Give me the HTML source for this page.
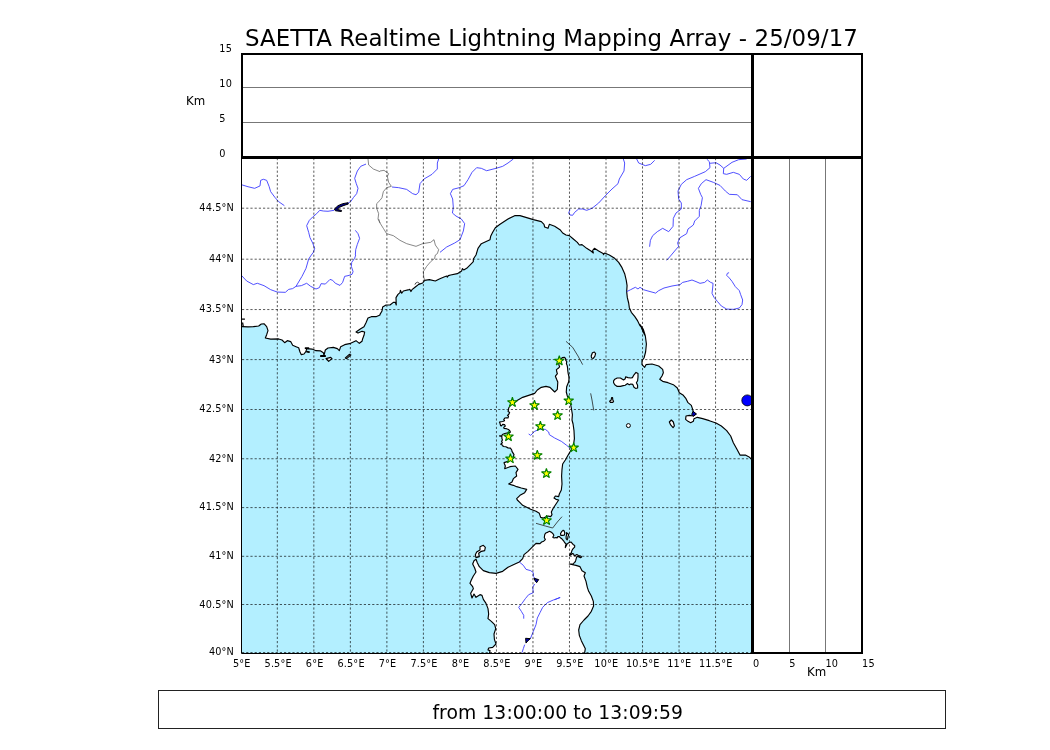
<!DOCTYPE html><html><head><meta charset="utf-8"><title>SAETTA Realtime Lightning Mapping Array</title>
<style>html,body{margin:0;padding:0;background:#fff}body{width:1050px;height:750px;overflow:hidden}svg{display:block}text{font-family:"DejaVu Sans","Liberation Sans",sans-serif;fill:#000}.t{font-size:9.72px;letter-spacing:.15px}.k{font-size:11.8px}</style></head><body>
<svg width="1050" height="750" viewBox="0 0 1050 750">
<defs><clipPath id="m"><rect x="242" y="158" width="510" height="495.5"/></clipPath></defs>
<rect width="1050" height="750" fill="#fff"/>
<g clip-path="url(#m)">
<rect x="241" y="157" width="512" height="497" fill="#b3efff"/>
<polygon points="241.07,326.67 242.67,326.67 248,326.93 253.33,326.67 258.67,326 261.33,324 264,323.73 266.67,326.67 268,330.67 266.67,334.67 265.33,338 270.67,339.07 278.67,338.93 282,340 284.67,342.67 287.33,340.67 290.67,341.6 292.67,345.33 296,346.67 298.67,347.73 300,352 301.33,354.67 304,354 306,351.33 306.67,348.67 312,349.07 316,350.67 320.67,350.93 323.33,352.67 324,355.33 325.33,350 328,348 333.33,347.33 337.33,348.67 339.33,350.67 340.67,346.67 344.67,344.67 350.67,343.33 356,340.67 359.33,343.33 362,341.33 362.67,338.67 364,335.33 364.67,332 362,331.33 358,333.07 356,332 360.67,328.67 364,326.67 366,322.67 368,318 371.33,316.67 376,316.67 380,314.93 380,314.33 382,311 382.67,307 386,305 390,305 393.33,302.33 395.33,302.33 396.27,305 396,297.67 398,294.33 400,292.6 400.4,290.33 401.73,293.27 403.33,291 408,289.93 409.87,289.4 410.93,291.53 412,289.67 415.33,287 418.67,284.33 422.67,283 424.67,280.33 429.33,279.67 435.33,281 439.33,279 444,277 446.67,276.07 447.33,277.13 448.27,275.67 450.67,275 457.33,273.67 461.6,271 462.4,268.6 463.73,269.93 466.67,268.33 470.67,264.33 473.33,261.67 473.33,259 476,255 478,248.33 481.33,243.67 490,239.67 490.67,236.33 492.67,232.33 495.33,227.67 500,224.33 508,219 514.67,215.67 520,215.67 520,215.67 526.67,217.67 533.33,219.67 541.33,221.67 544,224.33 544.67,227 548,228.33 549.33,224.33 554.67,226.33 560,229.67 562.67,233 566,235 569.33,235.67 573.33,239 577.33,242.33 579.33,245 582,244.6 586.67,248.33 591.33,251.27 593.33,253 592.67,250.33 594.4,248.33 598.67,251 604,253.93 603.33,254.73 604.67,253 609.33,255 614.67,258.33 618.67,262.33 622,267.67 624.67,273.67 626.27,280.33 627.07,285.67 626.67,291.67 627.33,297.67 628.67,303 629.33,307.67 631.33,312.33 634.67,316.33 637.33,320.33 640,325.67 642.67,329 644.67,335 640,324.67 643.33,329.33 645.33,336 646.4,344 645.6,352 644,358 642,360.67 642,364.67 644.67,367.33 646,364.67 652,364 658.67,366 662.67,369.33 663.33,372.67 662,376 659.73,379.33 662.67,381.33 668,382.67 673.33,384.67 677.33,388 679.33,392.67 683.33,395.33 686,398.67 688,402.67 691.33,405.33 692.67,409.33 693.33,412 695.33,414 693.33,416 689.33,415.33 686,416 685.6,419.33 688,421.33 690.67,422.67 693.33,421.33 694,418.67 697.33,417.33 702.67,418.67 709.33,420.67 716,423.07 721.33,426 726.67,430.67 730.67,436 733.33,442.67 736.67,448.67 740,455.07 745.33,455.07 748.67,456.67 752,459.6 760,459.6 760,150 235,150 235,326.7" fill="#fff"/>
<polyline points="241.07,326.67 242.67,326.67 248,326.93 253.33,326.67 258.67,326 261.33,324 264,323.73 266.67,326.67 268,330.67 266.67,334.67 265.33,338 270.67,339.07 278.67,338.93 282,340 284.67,342.67 287.33,340.67 290.67,341.6 292.67,345.33 296,346.67 298.67,347.73 300,352 301.33,354.67 304,354 306,351.33 306.67,348.67 312,349.07 316,350.67 320.67,350.93 323.33,352.67 324,355.33 325.33,350 328,348 333.33,347.33 337.33,348.67 339.33,350.67 340.67,346.67 344.67,344.67 350.67,343.33 356,340.67 359.33,343.33 362,341.33 362.67,338.67 364,335.33 364.67,332 362,331.33 358,333.07 356,332 360.67,328.67 364,326.67 366,322.67 368,318 371.33,316.67 376,316.67 380,314.93 380,314.33 382,311 382.67,307 386,305 390,305 393.33,302.33 395.33,302.33 396.27,305 396,297.67 398,294.33 400,292.6 400.4,290.33 401.73,293.27 403.33,291 408,289.93 409.87,289.4 410.93,291.53 412,289.67 415.33,287 418.67,284.33 422.67,283 424.67,280.33 429.33,279.67 435.33,281 439.33,279 444,277 446.67,276.07 447.33,277.13 448.27,275.67 450.67,275 457.33,273.67 461.6,271 462.4,268.6 463.73,269.93 466.67,268.33 470.67,264.33 473.33,261.67 473.33,259 476,255 478,248.33 481.33,243.67 490,239.67 490.67,236.33 492.67,232.33 495.33,227.67 500,224.33 508,219 514.67,215.67 520,215.67 520,215.67 526.67,217.67 533.33,219.67 541.33,221.67 544,224.33 544.67,227 548,228.33 549.33,224.33 554.67,226.33 560,229.67 562.67,233 566,235 569.33,235.67 573.33,239 577.33,242.33 579.33,245 582,244.6 586.67,248.33 591.33,251.27 593.33,253 592.67,250.33 594.4,248.33 598.67,251 604,253.93 603.33,254.73 604.67,253 609.33,255 614.67,258.33 618.67,262.33 622,267.67 624.67,273.67 626.27,280.33 627.07,285.67 626.67,291.67 627.33,297.67 628.67,303 629.33,307.67 631.33,312.33 634.67,316.33 637.33,320.33 640,325.67 642.67,329 644.67,335 640,324.67 643.33,329.33 645.33,336 646.4,344 645.6,352 644,358 642,360.67 642,364.67 644.67,367.33 646,364.67 652,364 658.67,366 662.67,369.33 663.33,372.67 662,376 659.73,379.33 662.67,381.33 668,382.67 673.33,384.67 677.33,388 679.33,392.67 683.33,395.33 686,398.67 688,402.67 691.33,405.33 692.67,409.33 693.33,412 695.33,414 693.33,416 689.33,415.33 686,416 685.6,419.33 688,421.33 690.67,422.67 693.33,421.33 694,418.67 697.33,417.33 702.67,418.67 709.33,420.67 716,423.07 721.33,426 726.67,430.67 730.67,436 733.33,442.67 736.67,448.67 740,455.07 745.33,455.07 748.67,456.67 752,459.6" fill="none" stroke="#000" stroke-width="1.15" stroke-linejoin="round"/>
<path d="M241.5,319.2H244.9M242.6,322.5L243.2,326.3" fill="none" stroke="#000" stroke-width="1.3"/>
<polygon points="508.67,408 511.33,404 516.67,400.67 522.67,397.33 528.67,395.33 534.67,393.33 537.33,390 541.33,387.33 546,386.4 550,387.33 552.67,390 554.67,392 557.33,389.33 557.8,382 556.6,379.2 555.4,376.2 557.4,373.6 556.8,372 556.4,369.6 558.6,368 559.6,366.8 559,365.2 558.8,363.6 559.8,361.2 562.2,357.6 564.6,357.4 565.6,358.6 565.8,360.4 566.8,361.6 566.4,363.6 567.2,365.6 567.6,368 567.8,370.8 568.2,373.6 568.8,376 569,379.2 568.6,382 566.67,386.67 566.27,392 567.33,396 570,401.33 571.33,408 572.4,414.67 572,420 573.07,424 574,430.67 574.4,438.67 573.33,446 570.67,450.67 568,455.33 565.33,460 562.67,464 562,469.33 561.6,476 562,484 561.33,490 559.33,494 558.67,496.67 555.33,496 554,498 556,499.33 558.67,500 556,504 553.33,508 551.33,512 552,514.67 550.67,516.67 548,516 543.33,518 540.67,517.33 539.33,513.33 536,511.33 530.67,509.33 526.67,507.33 522.67,505.33 520,502.67 517.33,500 516.67,498.67 520,495.33 524.67,492.67 526.67,489.33 521.33,488 516.67,486.67 513.33,485.33 508.67,484 512,482 513.33,478.67 516.67,476 516,472.67 518,469.33 515.33,466 510,466.67 504.67,468.67 505.33,466 504,462.67 508,461.33 512.67,458.67 514,454.67 512,451.33 511.73,450 510.4,448.13 508,447.87 505.87,446.8 503.2,446.53 502.67,445.2 500.8,444.13 502.4,442.8 501.6,441.47 502.4,439.87 501.87,438.27 501.87,436.4 499.47,435.87 501.87,435.87 502.4,434.53 504.8,433.47 508,432.93 510.4,432.13 509.87,430.8 508.53,429.47 506.4,428.67 504,428.4 503.73,427.33 505.33,426 504.53,424.67 502.67,424.4 501.33,426 500.53,425.47 500,423.33 499.47,422 502.67,421.47 504.53,420.67 503.73,419.6 504.8,418 506.4,417.73 508,418 508.53,416.13 507.47,415.33 508.8,414.27 509.6,412.4 508,411.33 508.53,410" fill="#fff" stroke="#000" stroke-width="1.15" stroke-linejoin="round"/>
<polygon points="489.6,654 489.6,652.67 490,650.67 488,650 488.67,648 492.67,647.33 496,644 494.4,639.33 494,634 495.73,628.67 494.67,624.67 491.33,621.33 488,618.67 488.67,614 488,608.67 486,603.33 483.33,599.33 482,595.33 480,594.67 476,597.33 474,594 472,598 470.67,593.33 473.33,588.67 472.67,586.67 470,583.33 471.33,580 473.33,576 476,572 474.67,568 472.67,564 474,560.67 476,559.33 477.33,562.67 479.33,566.67 483.33,570.67 489.33,572.67 496,573.33 502.67,571.33 508,567.33 513.33,564.67 519.33,562 522.67,558.67 524,554.67 528,551.33 532,547.33 536,543.33 540,543.6 541.6,542 543.73,541.2 545.33,539.6 544.27,537.47 544.8,534.27 545.87,532.93 548,532.13 549.33,531.33 551.2,532.13 552.8,533.47 553.87,535.33 552.8,537.2 554.13,538 556,537.47 557.07,538 557.87,536.67 559.47,536.67 560.27,537.73 561.87,538.8 562.93,540.13 564,541.47 565.07,543.07 566.13,543.87 565.6,545.47 565.33,547.6 566.13,546 567.2,543.87 568.8,542.8 570.93,542 572,543.07 573.07,544.4 574.67,545.47 574.67,547.07 573.6,548.13 572.53,549.47 571.73,551.07 571.47,552.4 569.87,554.53 569.6,555.6 571.47,554.53 572.53,553.47 573.6,554 574.13,555.6 575.47,555.33 576.8,554.53 578.4,555.6 580.8,556.13 581.6,556.93 580.53,557.73 578.4,556.67 576.8,556.67 576.27,558.27 575.73,560.4 575.2,562 574.67,562 573.33,564 569.33,564 576,565.33 580,566.67 582,570.67 585.33,572.67 584,576 586,581.33 587.33,587.33 588.67,591.33 591.33,596 593.33,601.33 593.6,606 591.33,611.33 588,616 584,620 580,624.67 578.67,630 579.33,635.33 581.33,640.67 583.33,644.67 585.33,648.67 584.67,652.67 584.67,654" fill="#fff" stroke="#000" stroke-width="1.15" stroke-linejoin="round"/>
<polygon points="560.53,533.47 561.87,531.33 563.2,530.27 564.27,531.07 564.8,533.2 564.27,535.07 562.4,535.33 560.8,535.33" fill="#fff" stroke="#000" stroke-width="1.15" stroke-linejoin="round"/>
<polygon points="566.4,532.67 567.73,533.47 568.8,534.8 568,536.4 567.73,538.53 567.2,539.87 566.13,538.53 566.13,536.4 566.67,534.53" fill="#fff" stroke="#000" stroke-width="1.15" stroke-linejoin="round"/>
<polygon points="480,546.67 483.33,545.33 485.33,547.33 484.67,550.67 481.33,551.33 478.67,553.33 479.33,556.67 476,557.6 475.33,554.67 476.67,552 480,550" fill="#fff" stroke="#000" stroke-width="1.15" stroke-linejoin="round"/>
<polygon points="613.6,380.8 614.8,379.2 617.2,378 620.4,378 623.6,380 625.2,378.8 625.6,376.8 628,377.6 630.8,378 632.4,377.6 634,374.8 636,372.4 638,373.6 638,377.2 637.6,380.8 636.4,382.8 637.6,385.2 637.6,388 635.6,388.4 634,387.2 632.8,384.4 630.8,384 629.2,384.8 627.6,383.6 625.2,385.2 623.2,385.6 620.4,386.4 617.2,386.4 614.8,384.8 613.6,382.8" fill="#fff" stroke="#000" stroke-width="1.15" stroke-linejoin="round"/>
<polygon points="591.6,358 591.2,356 592.4,352.8 594.4,352 595.6,353.6 594.8,356.4 593.2,358.4" fill="#fff" stroke="#000" stroke-width="1.15" stroke-linejoin="round"/>
<polygon points="609.6,401.2 611.2,400 611.6,397.6 612.56,397.6 612.8,400 613.6,401.2 612.8,402.4 610.4,402.4" fill="#fff" stroke="#000" stroke-width="1.15" stroke-linejoin="round"/>
<polygon points="669.33,422 671.33,420 673.33,422 674.4,426 673.07,427.6 670.67,424.93" fill="#fff" stroke="#000" stroke-width="1.15" stroke-linejoin="round"/>
<polygon points="326,358.67 330.67,357.33 332,358.67 328.67,361.33" fill="#fff" stroke="#000" stroke-width="1.15" stroke-linejoin="round"/>
<polygon points="345.33,358 349.33,354.4 350.93,354.93 346.67,358.67" fill="#fff" stroke="#000" stroke-width="1.15" stroke-linejoin="round"/>
<polygon points="305.33,347.73 308.67,347.73 308.67,348.53 305.33,348.53" fill="#fff" stroke="#000" stroke-width="1.15" stroke-linejoin="round"/>
<polygon points="306.67,351.2 309.33,351.73 309.07,352.53 306.67,352" fill="#fff" stroke="#000" stroke-width="1.15" stroke-linejoin="round"/>
<polygon points="320.67,355.6 325.33,355.6 325.33,356.4 320.67,356.4" fill="#fff" stroke="#000" stroke-width="1.15" stroke-linejoin="round"/>
<circle cx="628.4" cy="425.6" r="2.0" fill="#fff" stroke="#000" stroke-width="1"/>
<polyline points="241.07,184.6 248,186.73 254.67,188.33 260,185.93 260.67,180.33 263.33,179.27 266.67,180.33 269.07,186.33 270.67,191.67 274.93,197.4 278.67,201.67 284.4,205.67" fill="none" stroke="#3c3cff" stroke-width="0.9" stroke-linejoin="round"/>
<polyline points="366,164.07 360.67,166.33 357.33,171 354.67,178.33 356.27,183.67 358,188.33 356.67,193.67 353.33,197.67 350.67,201.67 347.73,203.27" fill="none" stroke="#3c3cff" stroke-width="0.9" stroke-linejoin="round"/>
<polygon points="348,202.73 342.67,203.67 338,205.67 334.4,209 335.33,210.73 341.33,211.53 341.6,210.47 337.33,209.4 339.33,207.27 344,205.4 348.27,204.07" fill="#00008b" stroke="#000" stroke-width="1"/>
<polyline points="334,210.33 328,211.27 323.33,211 319.73,210.33 316.67,213.67 312.67,217 309.33,220.33 306.67,225.67 308.67,232.33 310,237.67 312.67,243 314.67,248.33 313.33,252.33 311.33,255" fill="none" stroke="#3c3cff" stroke-width="0.9" stroke-linejoin="round"/>
<polyline points="355.33,230.33 358,233.67 359.6,238.33 357.33,244.33 355.73,249.67 355.33,255" fill="none" stroke="#3c3cff" stroke-width="0.9" stroke-linejoin="round"/>
<polyline points="368,159 368.67,165 373.33,169 380,171.67" fill="none" stroke="#555" stroke-width="0.7" stroke-linejoin="round"/>
<polyline points="380,200.33 376.67,203.67 376.67,208.33 378.67,213.67 378,219 380,223" fill="none" stroke="#555" stroke-width="0.7" stroke-linejoin="round"/>
<polyline points="380,171 384,170.33 388.67,173.67 387.33,176.33 388.67,182.33 391.33,186.33 386.67,187.67 383.33,191.67 382,197.67 380,200.33" fill="none" stroke="#555" stroke-width="0.7" stroke-linejoin="round"/>
<polyline points="392,187 398.67,187.67 406.67,189.4 412.67,193.67 416,194.73 418.67,192.33 420,183.67 424,179 432,174.33 437.33,169 437.33,163 438.67,159" fill="none" stroke="#3c3cff" stroke-width="0.9" stroke-linejoin="round"/>
<polyline points="378.67,219 380,223 383.33,228.33 386.67,233.67 393.33,235.67 400,240.33 406.67,243.67 416,246.33 422.67,243.67 430.67,242.33 434,239.67 435.33,245 438.67,249.67 437.33,253.67 435.33,255" fill="none" stroke="#555" stroke-width="0.7" stroke-linejoin="round"/>
<polyline points="513.33,159 508,163 502.67,166.33 496,168.33 486.67,170.73 481.33,168.33 476.67,167.67 472,172.33 468,179.67 464,185.67 459.33,187.67 452.67,189.4 450.4,193.67 452.67,199 453.33,207.67 452.4,213 456,216.07 461.33,219 464.67,223.67 463.33,231 460,239.67 454.67,243 446.67,247 440,252.33" fill="none" stroke="#3c3cff" stroke-width="0.9" stroke-linejoin="round"/>
<polyline points="623.33,159 624.67,163 624,171 619.33,179 618,183.67 612,189 605.33,195.67 598.67,203 592,208.33 586.67,210.33 582.67,209 578.67,209 574.67,212.33 572.67,215.27 570,215 568.67,213 570,209.67" fill="none" stroke="#3c3cff" stroke-width="0.9" stroke-linejoin="round"/>
<polyline points="636.67,159 638.67,163 645.33,165.67 650.67,164.33 654.67,160.33" fill="none" stroke="#3c3cff" stroke-width="0.9" stroke-linejoin="round"/>
<polyline points="706.67,159 709.33,161.67 710,167.67 705.33,171.67 694.67,176.33 686.67,179.67 681.33,184.33 678,191 678.67,199 681.33,203 681.33,209 676,213 673.33,218.33 673.07,226.33 668.67,231.67 662.67,228.33 657.33,231.67 652.67,235.67 650.4,240.33 649.6,246.73" fill="none" stroke="#3c3cff" stroke-width="0.9" stroke-linejoin="round"/>
<polyline points="710,163.27 716,162.73 720,165 723.73,168.33 723.33,173.67 726.67,174.33 733.33,172.33 739.33,174.33 743.33,179 746.67,180.33 750.67,176.33" fill="none" stroke="#3c3cff" stroke-width="0.9" stroke-linejoin="round"/>
<polyline points="723.73,168.33 732,162.33 738.67,159.67 746.67,159" fill="none" stroke="#3c3cff" stroke-width="0.9" stroke-linejoin="round"/>
<polyline points="750.67,201.67 742,199.67 737.33,194.73 729.33,194.33 725.33,191 720,185.4 713.33,182.33 706,179.67 701.33,183.67 698.4,188.33 700.67,194.33 702.4,197.67 701.07,205.67 699.33,210.33 699.33,216.33 694.67,221 693.33,225 688,229 686.67,233.67 680,237.67 677.6,243 678.67,246.33 674.67,251 671.33,255 666.67,260.33" fill="none" stroke="#3c3cff" stroke-width="0.9" stroke-linejoin="round"/>
<polyline points="311.33,255 308.67,259 306,268.33 302,276.33 296,286.33" fill="none" stroke="#3c3cff" stroke-width="0.9" stroke-linejoin="round"/>
<polyline points="241.07,275 246.67,281 253.33,284.6 257.33,283.27 264,285.67 270.67,289.67 277.33,292.07 285.33,292.33 288.67,289.4 292.67,288.6 296,286.33 301.33,285.67 306.67,283.27 310.67,286.33 316,289 319.33,287.67 321.07,283.67 325.33,284.07 330,279.4 332.67,280.33 335.33,283.27 340,285.4 342.67,282.33 344.67,276.33 348,275.67 352,274.33 353.07,271.67 351.33,266.33 351.73,262.33 354.67,258.33 355.73,255" fill="none" stroke="#3c3cff" stroke-width="0.9" stroke-linejoin="round"/>
<polyline points="435.33,255 434.67,258.33 430.67,261.67 426.67,266.33 423.33,271.67 423.73,277 424.67,280.33" fill="none" stroke="#555" stroke-width="0.7" stroke-linejoin="round"/>
<polyline points="626.67,291.67 630.67,289.67 635.33,287.27 638,289 640,287.27 643.33,289.67 648,291 655.33,293" fill="none" stroke="#3c3cff" stroke-width="0.9" stroke-linejoin="round"/>
<polyline points="655.33,293.33 658.67,290.67 664,288 672,286 680,284.67 682.67,282.4 687.33,281.33 692,280 696,281.6 700,283.33 704.67,282.4 707.33,280 710.67,282.4 713.07,283.33 712.67,288 712,293.33 714,297.33 717.33,301.33 721.33,306 726.67,309.07 733.33,309.33 739.33,308 742,304.67 742.67,300 740.67,294.67 739.33,290.67 735.33,286.67 732,281.33 729.33,278 726.67,275.33 727.33,273.33 729.07,272.67" fill="none" stroke="#3c3cff" stroke-width="0.9" stroke-linejoin="round"/>
<polyline points="528.67,434 530.67,435.33 534.67,431.33 539.33,429.33 545.33,429.33 548.67,432 549.33,434.67 554.67,438 561.33,441.33 566.67,445.33 570.67,448.67" fill="none" stroke="#3c3cff" stroke-width="0.9" stroke-linejoin="round"/>
<polyline points="519.33,562 523.33,565.33 526,569.33 530.67,570.67 533.33,572.67 533.33,576.67 535.33,578.67" fill="none" stroke="#3c3cff" stroke-width="0.9" stroke-linejoin="round"/>
<polyline points="534.67,584 532.67,587.33 533.33,592.67 528.67,594.67 525.33,598.67 522,603.33 518.67,607.33 521.33,611.33 523.73,615.33 523.73,618.67" fill="none" stroke="#3c3cff" stroke-width="0.9" stroke-linejoin="round"/>
<polyline points="560.27,597.6 553.33,600 547.33,602.67 542.67,607.33 540,612.67 537.33,618 536,624.67 533.33,631.33 530.67,638 528,639.33" fill="none" stroke="#3c3cff" stroke-width="0.9" stroke-linejoin="round"/>
<polyline points="524.67,644.67 523.33,648.67 522,652.67" fill="none" stroke="#3c3cff" stroke-width="0.9" stroke-linejoin="round"/>
<polyline points="560,597.33 554.67,599.73" fill="none" stroke="#3c3cff" stroke-width="0.9" stroke-linejoin="round"/>
<polygon points="534,578.27 538.67,579.6 536.67,582.67 535.33,581.33" fill="#0000b0" stroke="#000" stroke-width="1"/>
<polygon points="525.6,638.27 530.4,638.67 528,640.67 526,643.07" fill="#0000b0" stroke="#000" stroke-width="1"/>
<polygon points="693.07,411.33 696.53,414 693.33,416.27 691.73,414.27" fill="#0000b0" stroke="#000" stroke-width="1"/>
<circle cx="747.3" cy="400.4" r="5.5" fill="#0000ff" stroke="#000" stroke-width="0.8"/>
<polyline points="414.93,284.6 415.73,283 417.6,282.2 419.33,283.27 420,284.33" fill="none" stroke="#222" stroke-width="0.8"/>
<polyline points="566,341.33 572.67,347.33 578,356 582.67,364.67" fill="none" stroke="#222" stroke-width="0.8"/>
<polyline points="590.67,393.33 592,400 593.73,410.4" fill="none" stroke="#222" stroke-width="0.8"/>
<polyline points="536,523.33 545.33,526 552.67,528 557.33,522 562,516.67" fill="none" stroke="#222" stroke-width="0.8"/>
<path d="M277.32,158V654M313.84,158V654M350.36,158V654M386.88,158V654M423.4,158V654M459.92,158V654M496.44,158V654M532.96,158V654M569.48,158V654M606,158V654M642.52,158V654M679.04,158V654M715.56,158V654M242,208.2H752M242,259.2H752M242,309.55H752M242,359.6H752M242,409.5H752M242,458.75H752M242,507.6H752M242,556.3H752M242,604.5H752M242,652.5H752" fill="none" stroke="#000" stroke-width="0.65" stroke-dasharray="2.2 2"/>
<polygon points="559.3,355.65 560.46,359.21 564.2,359.21 561.17,361.41 562.33,364.97 559.3,362.77 556.27,364.97 557.43,361.41 554.4,359.21 558.14,359.21" fill="#ffff00" stroke="#008000" stroke-width="1.1" stroke-linejoin="bevel"/>
<polygon points="512.4,397.25 513.56,400.81 517.3,400.81 514.27,403.01 515.43,406.57 512.4,404.37 509.37,406.57 510.53,403.01 507.5,400.81 511.24,400.81" fill="#ffff00" stroke="#008000" stroke-width="1.1" stroke-linejoin="bevel"/>
<polygon points="534.5,400.15 535.66,403.71 539.4,403.71 536.37,405.91 537.53,409.47 534.5,407.27 531.47,409.47 532.63,405.91 529.6,403.71 533.34,403.71" fill="#ffff00" stroke="#008000" stroke-width="1.1" stroke-linejoin="bevel"/>
<polygon points="568.7,395.55 569.86,399.11 573.6,399.11 570.57,401.31 571.73,404.87 568.7,402.67 565.67,404.87 566.83,401.31 563.8,399.11 567.54,399.11" fill="#ffff00" stroke="#008000" stroke-width="1.1" stroke-linejoin="bevel"/>
<polygon points="557.6,410.35 558.76,413.91 562.5,413.91 559.47,416.11 560.63,419.67 557.6,417.47 554.57,419.67 555.73,416.11 552.7,413.91 556.44,413.91" fill="#ffff00" stroke="#008000" stroke-width="1.1" stroke-linejoin="bevel"/>
<polygon points="540.4,421.25 541.56,424.81 545.3,424.81 542.27,427.01 543.43,430.57 540.4,428.37 537.37,430.57 538.53,427.01 535.5,424.81 539.24,424.81" fill="#ffff00" stroke="#008000" stroke-width="1.1" stroke-linejoin="bevel"/>
<polygon points="508.5,431.45 509.66,435.01 513.4,435.01 510.37,437.21 511.53,440.77 508.5,438.57 505.47,440.77 506.63,437.21 503.6,435.01 507.34,435.01" fill="#ffff00" stroke="#008000" stroke-width="1.1" stroke-linejoin="bevel"/>
<polygon points="573.7,442.55 574.86,446.11 578.6,446.11 575.57,448.31 576.73,451.87 573.7,449.67 570.67,451.87 571.83,448.31 568.8,446.11 572.54,446.11" fill="#ffff00" stroke="#008000" stroke-width="1.1" stroke-linejoin="bevel"/>
<polygon points="537.3,450.15 538.46,453.71 542.2,453.71 539.17,455.91 540.33,459.47 537.3,457.27 534.27,459.47 535.43,455.91 532.4,453.71 536.14,453.71" fill="#ffff00" stroke="#008000" stroke-width="1.1" stroke-linejoin="bevel"/>
<polygon points="510.4,453.55 511.56,457.11 515.3,457.11 512.27,459.31 513.43,462.87 510.4,460.67 507.37,462.87 508.53,459.31 505.5,457.11 509.24,457.11" fill="#ffff00" stroke="#008000" stroke-width="1.1" stroke-linejoin="bevel"/>
<polygon points="546.4,468.35 547.56,471.91 551.3,471.91 548.27,474.11 549.43,477.67 546.4,475.47 543.37,477.67 544.53,474.11 541.5,471.91 545.24,471.91" fill="#ffff00" stroke="#008000" stroke-width="1.1" stroke-linejoin="bevel"/>
<polygon points="546.6,515.25 547.76,518.81 551.5,518.81 548.47,521.01 549.63,524.57 546.6,522.37 543.57,524.57 544.73,521.01 541.7,518.81 545.44,518.81" fill="#ffff00" stroke="#008000" stroke-width="1.1" stroke-linejoin="bevel"/>
</g>
<path d="M241.5,158V653.5H752" fill="none" stroke="#000" stroke-width="1"/>
<path d="M243,87.5H751M243,122.5H751" fill="none" stroke="#777" stroke-width="1"/>
<path d="M789.5,159V652M825.5,159V652" fill="none" stroke="#777" stroke-width="1"/>
<g fill="#000">
<rect x="241" y="53" width="622" height="2"/>
<rect x="241" y="53" width="2" height="105"/>
<rect x="241" y="156" width="622" height="3"/>
<rect x="751" y="53" width="3" height="601"/>
<rect x="861" y="53" width="2" height="601"/>
<rect x="751" y="652" width="112" height="2"/>
</g>
<rect x="158.5" y="690.5" width="787" height="38" fill="none" stroke="#222" stroke-width="1"/>
<text id="title" x="551.4" y="45.6" font-size="22.9" text-anchor="middle" textLength="612.9" lengthAdjust="spacing">SAETTA Realtime Lightning Mapping Array - 25/09/17</text>
<text id="foot" x="557.7" y="718.8" font-size="18.75" text-anchor="middle" textLength="250.6" lengthAdjust="spacing">from 13:00:00 to 13:09:59</text>
<text class="t" x="219.3" y="51.55">15</text>
<text class="t" x="219.3" y="86.75">10</text>
<text class="t" x="219.3" y="121.75">5</text>
<text class="t" x="219.3" y="156.75">0</text>
<text class="k" x="186" y="105">Km</text>
<text class="t" x="234" y="211.05" text-anchor="end">44.5°N</text>
<text class="t" x="234" y="262.05" text-anchor="end">44°N</text>
<text class="t" x="234" y="312.4" text-anchor="end">43.5°N</text>
<text class="t" x="234" y="363.45" text-anchor="end">43°N</text>
<text class="t" x="234" y="412.35" text-anchor="end">42.5°N</text>
<text class="t" x="234" y="461.9" text-anchor="end">42°N</text>
<text class="t" x="234" y="510.45" text-anchor="end">41.5°N</text>
<text class="t" x="234" y="559.15" text-anchor="end">41°N</text>
<text class="t" x="234" y="608.25" text-anchor="end">40.5°N</text>
<text class="t" x="234" y="655.35" text-anchor="end">40°N</text>
<text class="t" x="241.7" y="667" text-anchor="middle">5°E</text>
<text class="t" x="278.16" y="667" text-anchor="middle">5.5°E</text>
<text class="t" x="314.62" y="667" text-anchor="middle">6°E</text>
<text class="t" x="351.08" y="667" text-anchor="middle">6.5°E</text>
<text class="t" x="387.54" y="667" text-anchor="middle">7°E</text>
<text class="t" x="424" y="667" text-anchor="middle">7.5°E</text>
<text class="t" x="460.46" y="667" text-anchor="middle">8°E</text>
<text class="t" x="496.92" y="667" text-anchor="middle">8.5°E</text>
<text class="t" x="533.38" y="667" text-anchor="middle">9°E</text>
<text class="t" x="569.84" y="667" text-anchor="middle">9.5°E</text>
<text class="t" x="606.3" y="667" text-anchor="middle">10°E</text>
<text class="t" x="642.76" y="667" text-anchor="middle">10.5°E</text>
<text class="t" x="679.22" y="667" text-anchor="middle">11°E</text>
<text class="t" x="715.68" y="667" text-anchor="middle">11.5°E</text>
<text class="t" x="753.1" y="666.6">0</text>
<text class="t" x="789.2" y="666.6">5</text>
<text class="t" x="825.5" y="666.6">10</text>
<text class="t" x="862.1" y="666.6">15</text>
<text class="k" x="807" y="676.1">Km</text>
</svg></body></html>
